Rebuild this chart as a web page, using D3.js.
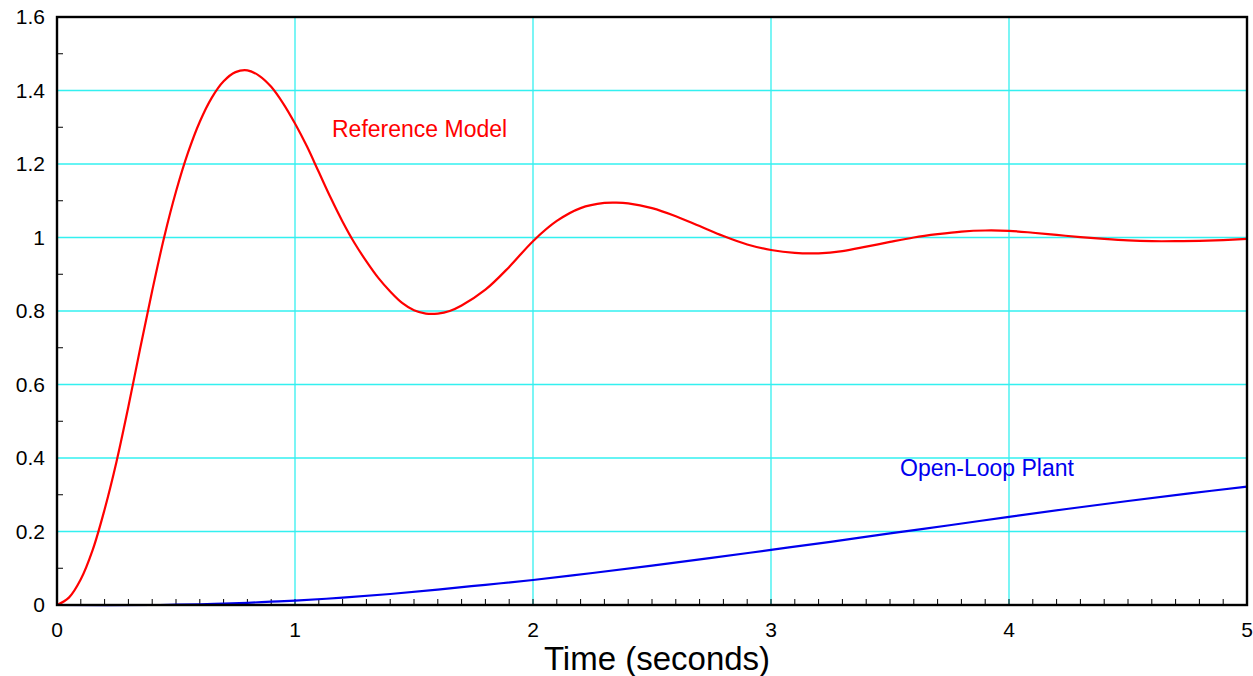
<!DOCTYPE html>
<html>
<head>
<meta charset="utf-8">
<script src="https://cdn.jsdelivr.net/npm/d3@7"></script>
<style>
  body { margin: 0; background: #fff; }
  svg { display: block; font-family: "Liberation Sans", Arial, Helvetica, sans-serif; }
</style>
</head>
<body>
<svg width="1253" height="676"></svg>
<script>
// Values
const refTime = [0, 0.05, 0.1, 0.15, 0.2, 0.25, 0.3, 0.35, 0.4, 0.45, 0.5, 0.55, 0.6, 0.65, 0.7, 0.75, 0.8,
  0.85, 0.9, 0.95, 1.0, 1.05, 1.1, 1.15, 1.2, 1.25, 1.3, 1.35, 1.4, 1.45, 1.5, 1.55, 1.6, 1.65, 1.7, 1.8,
  1.9, 2.0, 2.1, 2.2, 2.3, 2.35, 2.4, 2.5, 2.6, 2.7, 2.8, 2.9, 3.0, 3.1, 3.2, 3.3, 3.4, 3.5, 3.6, 3.7,
  3.8, 3.9, 4.0, 4.1, 4.2, 4.3, 4.4, 4.5, 4.6, 4.7, 4.8, 4.9, 5.0];
const refValue = [0, 0.02, 0.07, 0.15, 0.26, 0.39, 0.54, 0.70, 0.855, 1.0, 1.125, 1.23, 1.315, 1.38, 1.425, 1.45, 1.455,
  1.44, 1.41, 1.365, 1.31, 1.248, 1.178, 1.108, 1.043, 0.985, 0.935, 0.89, 0.853, 0.822, 0.802, 0.793, 0.793, 0.8, 0.815, 0.858,
  0.92, 0.99, 1.045, 1.08, 1.094, 1.095, 1.093, 1.08, 1.058, 1.031, 1.004, 0.981, 0.966, 0.958, 0.957, 0.963, 0.975, 0.988, 1.0, 1.009,
  1.016, 1.019, 1.018, 1.013, 1.007, 1.001, 0.996, 0.992, 0.99, 0.99, 0.991, 0.993, 0.996];

const plantTime = [0, 0.4, 0.5, 0.6, 0.7, 0.8, 0.9, 1.0, 1.2, 1.4, 1.6, 1.8, 2.0, 2.25, 2.5, 2.75, 3.0,
  3.25, 3.5, 3.75, 4.0, 4.25, 4.5, 4.75, 5.0];
const plantValue = [0, 0, 0.001, 0.002, 0.004, 0.006, 0.009, 0.012, 0.02, 0.03, 0.042, 0.055, 0.068, 0.087, 0.107, 0.128, 0.15,
  0.172, 0.195, 0.217, 0.24, 0.262, 0.283, 0.303, 0.322];

const xTicks = [0, 1, 2, 3, 4, 5];
const yTicks = [0, 0.2, 0.4, 0.6, 0.8, 1, 1.2, 1.4, 1.6];

const svg = d3.select("svg");
const margin = {left: 57, right: 6, top: 17, bottom: 71};
const width = 1253, height = 676;

const x = d3.scaleLinear().domain([0, 5]).range([margin.left, width - margin.right]);
const y = d3.scaleLinear().domain([0, 1.6]).range([height - margin.bottom, margin.top]);

// grid
const grid = svg.append("g").attr("stroke", "#33f0f0").attr("stroke-width", 1.3);
grid.selectAll(".vg").data(xTicks.slice(1, -1)).enter().append("line")
    .attr("x1", d => x(d)).attr("x2", d => x(d))
    .attr("y1", y(0)).attr("y2", y(1.6));
grid.selectAll(".hg").data(yTicks.slice(1, -1)).enter().append("line")
    .attr("x1", x(0)).attr("x2", x(5))
    .attr("y1", d => y(d)).attr("y2", d => y(d));

// minor ticks
const xMinor = d3.range(1, 50).map(i => i / 10);
svg.append("g").attr("stroke", "#000").attr("stroke-width", 1)
    .selectAll("line").data(xMinor).enter().append("line")
    .attr("x1", d => x(d)).attr("x2", d => x(d))
    .attr("y1", y(0)).attr("y2", y(0) - 6);
const yMinor = [0.1, 0.3, 0.5, 0.7, 0.9, 1.1, 1.3, 1.5];
svg.append("g").attr("stroke", "#000").attr("stroke-width", 1)
    .selectAll("line").data(yMinor).enter().append("line")
    .attr("x1", x(0)).attr("x2", x(0) + 6)
    .attr("y1", d => y(d)).attr("y2", d => y(d));

// curves
const line = d3.line().x(d => x(d[0])).y(d => y(d[1])).curve(d3.curveCatmullRom.alpha(0.5));

svg.append("path")
    .datum(plantTime.map((t, i) => [t, plantValue[i]]))
    .attr("fill", "none").attr("stroke", "#0000ee").attr("stroke-width", 2.2)
    .attr("d", line);

svg.append("path")
    .datum(refTime.map((t, i) => [t, refValue[i]]))
    .attr("fill", "none").attr("stroke", "#ff0000").attr("stroke-width", 2.2)
    .attr("d", line);

// frame
svg.append("rect")
    .attr("x", x(0)).attr("y", y(1.6))
    .attr("width", x(5) - x(0)).attr("height", y(0) - y(1.6))
    .attr("fill", "none").attr("stroke", "#000").attr("stroke-width", 2.4);

// tick labels
svg.append("g").selectAll("text").data(xTicks).enter().append("text")
    .attr("x", d => x(d)).attr("y", y(0) + 32)
    .attr("text-anchor", "middle").attr("font-size", 21)
    .text(d => d);
svg.append("g").selectAll("text").data(yTicks).enter().append("text")
    .attr("x", x(0) - 12).attr("y", d => y(d) + 7)
    .attr("text-anchor", "end").attr("font-size", 21)
    .text(d => d);

// axis title
svg.append("text")
    .attr("x", 657).attr("y", 670)
    .attr("text-anchor", "middle").attr("font-size", 33)
    .text("Time (seconds)");

// curve labels
svg.append("text")
    .attr("x", 332).attr("y", 137)
    .attr("font-size", 23).attr("fill", "#ff0000")
    .text("Reference Model");
svg.append("text")
    .attr("x", 900).attr("y", 476)
    .attr("font-size", 23).attr("fill", "#0000ee")
    .text("Open-Loop Plant");
</script>
</body>
</html>
